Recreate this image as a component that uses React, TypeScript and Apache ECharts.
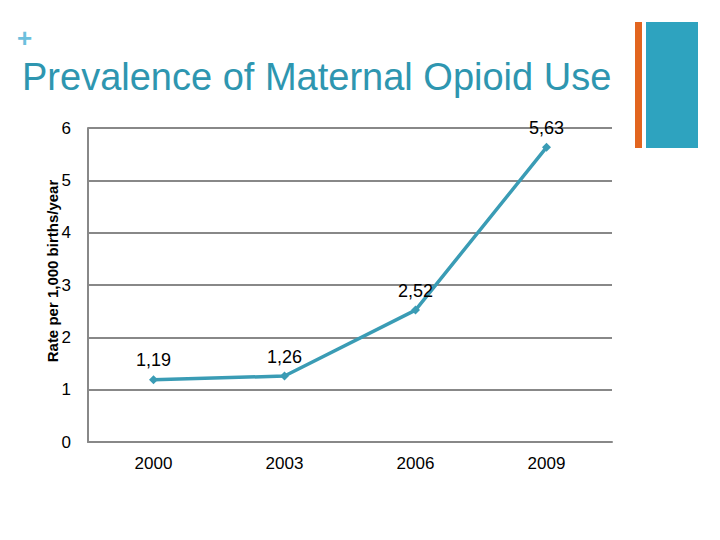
import React, { useEffect, useRef } from "react";
import * as echarts from "echarts";

const years = ["2000", "2003", "2006", "2009"];
const rates = [1.19, 1.26, 2.52, 5.63];
const yTicks = [0, 1, 2, 3, 4, 5, 6];
const yName = "Rate per 1,000 births/year";

export default function App() {
  const ref = useRef<HTMLDivElement>(null);
  useEffect(() => {
    if (!ref.current) return;
    const chart = echarts.init(ref.current, undefined, { renderer: "svg" });
    chart.setOption({
      animation: false,
      backgroundColor: "#ffffff",
      graphic: [
        { type: "text", left: 17, top: 25, style: { text: "+", fill: "#6cc0dd", font: "bold 26px Arial, 'Liberation Sans'" } },
        { type: "text", left: 22, top: 58, style: { text: "Prevalence of Maternal Opioid Use", fill: "#2e96b0", font: "38px Arial, 'Liberation Sans'" } },
        { type: "rect", shape: { x: 635, y: 22, width: 7, height: 126 }, style: { fill: "#e2651f" } },
        { type: "rect", shape: { x: 646, y: 22, width: 52, height: 126 }, style: { fill: "#2ea3bf" } },
        {
          type: "text",
          x: 52,
          y: 271,
          rotation: Math.PI / 2,
          style: {
            text: yName,
            fill: "#000000",
            font: "bold 15px Arial, 'Liberation Sans'",
            align: "center",
            verticalAlign: "middle",
          },
        },
      ],
      grid: { left: 88, right: 108, top: 128, bottom: 98 },
      xAxis: {
        type: "category",
        data: years,
        boundaryGap: true,
        axisLine: { lineStyle: { color: "#888888", width: 2 } },
        axisTick: { show: false },
        axisLabel: { color: "#000000", fontSize: 17, fontFamily: "Arial, 'Liberation Sans'", margin: 13 },
      },
      yAxis: {
        type: "value",
        min: yTicks[0],
        max: yTicks[yTicks.length - 1],
        interval: 1,
        axisLine: { show: true, lineStyle: { color: "#888888", width: 2 } },
        axisTick: { show: false },
        splitLine: { lineStyle: { color: "#888888", width: 2 } },
        axisLabel: { color: "#000000", fontSize: 17, fontFamily: "Arial, 'Liberation Sans'", margin: 17, verticalAlign: "middle" },
      },
      series: [
        {
          type: "line",
          data: rates,
          symbol: "diamond",
          symbolSize: 9,
          lineStyle: { color: "#3a9cb5", width: 3.5 },
          itemStyle: { color: "#3a9cb5" },
          label: {
            show: true,
            position: "top",
            distance: 6,
            color: "#000000",
            fontSize: 18,
            fontFamily: "Arial, 'Liberation Sans'",
            formatter: (p: any) => String(p.value).replace(".", ","),
          },
        },
      ],
    });
    return () => chart.dispose();
  }, []);
  return <div ref={ref} style={{ position: "fixed", left: 0, top: 0, width: 720, height: 540 }} />;
}
